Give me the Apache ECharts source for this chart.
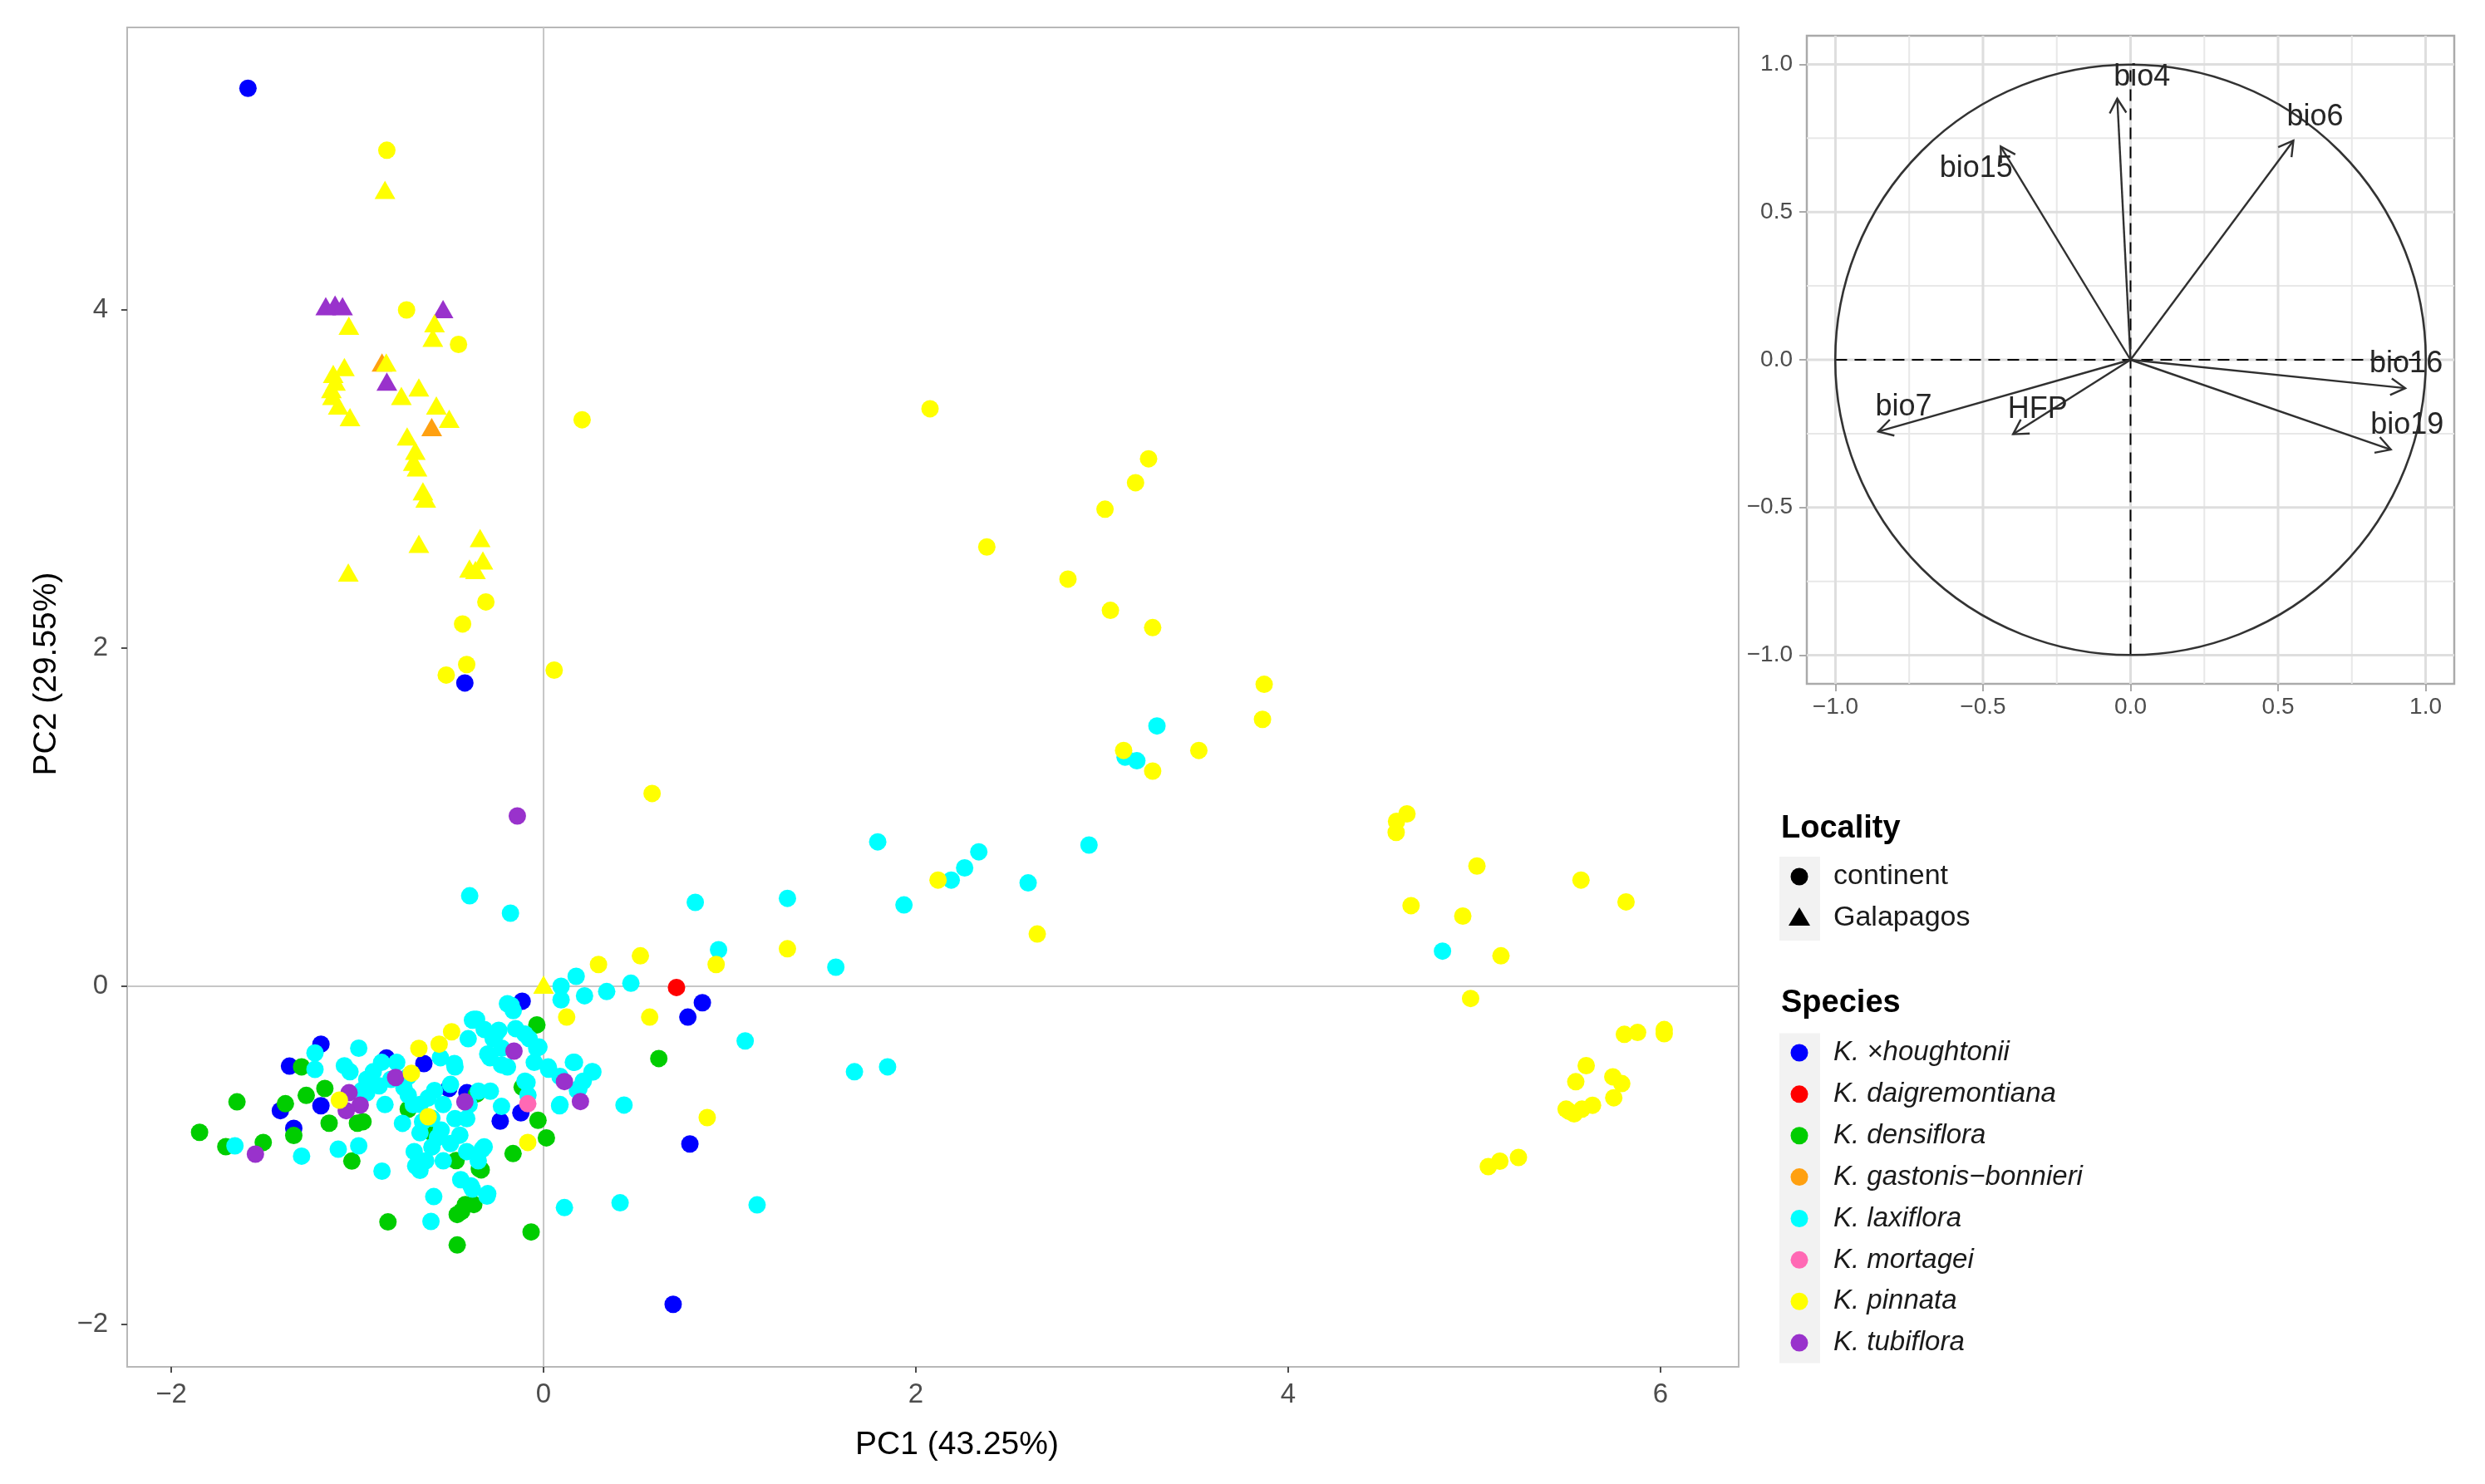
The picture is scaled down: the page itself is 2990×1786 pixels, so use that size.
<!DOCTYPE html>
<html><head><meta charset="utf-8">
<script src="https://cdn.jsdelivr.net/npm/echarts@6/dist/echarts.min.js"></script>
<style>html,body{margin:0;padding:0;background:#fff}#c{width:2990px;height:1786px}</style>
</head><body><div id="c"></div>
<script>
// ---------- DATA ----------
const speciesNames = ['K. ×houghtonii','K. daigremontiana','K. densiflora','K. gastonis−bonnieri','K. laxiflora','K. mortagei','K. pinnata','K. tubiflora'];
const speciesColors = ['#0000FF','#FF0000','#00CD00','#FFA010','#00FFFF','#FF69B4','#FFFF00','#9932CC'];
const localityNames = ['continent','Galapagos'];

const houghtoniiCont = [
[-1.588,5.308],[-0.423,1.793],[0.696,-1.88],[0.786,-0.932],[0.775,-0.182],[0.853,-0.097],
[-1.365,-0.472],[-1.196,-0.342],[-1.414,-0.735],[-1.342,-0.84],[-1.196,-0.706],[-0.844,-0.424],
[-0.643,-0.457],[-0.509,-0.604],[-0.412,-0.629],[-0.122,-0.748],[-0.233,-0.797],[-0.115,-0.088]];

const densifloraCont = [
[-1.848,-0.863],[-1.647,-0.683],[-1.707,-0.948],[-1.506,-0.923],[-1.30,-0.476],[-1.387,-0.694],
[-1.342,-0.882],[-1.275,-0.645],[-1.175,-0.604],[-1.152,-0.809],[-1.0,-0.809],[-0.97,-0.80],
[-1.03,-1.033],[-0.836,-1.393],[-0.464,-1.529],[-0.464,-1.349],[-0.42,-1.29],[-0.345,-1.079],
[-0.375,-1.29],[-0.36,-0.637],[-0.03,-0.792],[0.015,-0.896],[-0.164,-0.989],[-0.115,-0.596],
[-0.036,-0.228],[-0.067,-1.452],[0.619,-0.427],[-0.727,-0.727],[-0.47,-1.03],[-0.335,-1.085],
[-0.6,-0.865],[-0.44,-1.33]];

const laxifloraCont = [
[-1.228,-0.394],[-1.228,-0.491],[-0.993,-0.366],[-1.040,-0.505],[-0.915,-0.505],[-0.789,-0.450],
[-0.727,-0.533],[-0.883,-0.588],[-0.977,-0.616],[-0.852,-0.699],[-0.727,-0.644],[-0.664,-0.699],
[-0.758,-0.810],[-0.554,-0.422],[-0.476,-0.477],[-0.382,-0.200],[-0.319,-0.255],[-0.257,-0.283],
[-0.225,-0.366],[-0.288,-0.422],[-0.194,-0.477],[-0.163,-0.144],[-0.194,-0.103],[-0.100,-0.283],
[-0.037,-0.366],[0.025,-0.477],[0.088,-0.533],[0.166,-0.450],[0.213,-0.561],[0.260,-0.505],
[0.182,-0.616],[0.088,-0.699],[-0.100,-0.561],[-0.084,-0.644],[-0.586,-0.616],[-0.539,-0.699],
[-0.476,-0.782],[-0.413,-0.782],[-0.664,-0.866],[-0.570,-0.894],[-0.695,-0.977],[-0.633,-1.032],
[-0.664,-1.088],[-0.539,-1.032],[-0.413,-0.977],[-0.351,-1.032],[-0.319,-0.949],[-0.445,-1.143],
[-0.382,-1.199],[-0.304,-1.240],[-1.103,-0.963],[-0.993,-0.943],[-0.868,-1.093],[-1.30,-1.004],
[-1.658,-0.943],[-1.07,-0.47],[-0.95,-0.55],[-0.82,-0.55],[-0.75,-0.60],[-0.70,-0.70],
[-0.60,-0.78],[-0.65,-0.80],[-0.55,-0.85],[-0.50,-0.93],[-0.60,-0.95],[-0.45,-0.88],
[-0.40,-0.70],[-0.35,-0.62],[-0.30,-0.40],[-0.15,-0.25],[-0.05,-0.45],[-0.95,-0.63],
[-0.87,-0.45],[-0.62,-0.66],[-0.50,-0.58],[-0.59,-1.243],[-0.605,-1.39],[-0.687,-1.062],
[-0.375,-0.195],[-0.405,-0.31],[-0.479,-0.457],[-0.397,0.535],[-0.178,0.432],[0.094,0.0],
[0.175,0.059],[0.094,-0.08],[0.22,-0.056],[0.339,-0.031],[0.469,0.018],[1.083,-0.323],
[0.432,-0.702],[0.112,-1.308],[0.411,-1.28],[1.147,-1.292],[0.027,-0.49],[0.16,-0.449],
[0.265,-0.506],[0.19,-0.604],[0.086,-0.706],[-0.089,-0.568],[-0.174,-0.113],[-0.025,-0.359],
[-0.077,-0.31],[-0.226,-0.465],[-0.271,-0.31],[-0.36,-0.195],[-0.241,-0.26],[-0.286,-0.62],
[-0.226,-0.71],[-0.33,-0.964],[-0.3,-1.226],[-0.39,-1.18],[0.815,0.496],[1.31,0.52],
[1.795,0.854],[1.936,0.481],[0.94,0.216],[1.57,0.113],[1.67,-0.505],[1.848,-0.476],
[2.338,0.795],[2.262,0.70],[2.19,0.628],[2.603,0.611],[2.93,0.835],[3.295,1.539],
[3.124,1.355],[3.187,1.333],[4.829,0.208]];

const gastonisGal = [[-0.868,3.687],[-0.601,3.306]];

const tubifloraCont = [
[-1.548,-0.992],[-1.045,-0.629],[-0.985,-0.702],[-1.06,-0.735],[-0.795,-0.539],[-0.423,-0.683],
[-0.159,-0.383],[0.112,-0.563],[0.198,-0.681],[-0.141,1.007]];
const tubifloraGal = [[-1.17,4.02],[-1.12,4.03],[-1.08,4.02],[-0.54,4.003],[-0.842,3.575]];

const pinnataGal = [
[-0.852,4.708],[-1.046,3.905],[-0.586,3.92],[-0.595,3.834],[-0.845,3.687],[-1.07,3.66],
[-1.118,3.575],[-1.134,3.49],[-1.103,3.433],[-1.04,3.364],[-1.13,3.62],[-1.14,3.53],
[-0.67,3.54],[-0.764,3.49],[-0.576,3.433],[-0.507,3.355],[-0.733,3.25],[-0.689,3.166],
[-0.68,3.067],[-0.70,3.10],[-0.648,2.926],[-0.633,2.883],[-0.67,2.616],[-0.341,2.65],
[-0.326,2.517],[-0.398,2.469],[-0.366,2.461],[-1.049,2.446],[0.0,0.01]];
const pinnataCont = [
[-0.842,4.942],[-0.736,3.998],[-0.457,3.794],[-0.31,2.272],[-0.435,2.142],[-0.413,1.902],
[-0.523,1.84],[0.057,1.869],[0.207,3.349],[0.583,1.14],[-0.67,-0.367],[-0.561,-0.342],
[-0.494,-0.269],[-0.71,-0.514],[-0.62,-0.771],[-1.097,-0.673],[-0.085,-0.923],[0.124,-0.182],
[0.57,-0.182],[0.295,0.129],[0.52,0.18],[0.927,0.129],[0.879,-0.776],[1.31,0.222],
[2.076,3.414],[3.25,3.118],[3.18,2.977],[3.016,2.82],[2.381,2.597],[2.817,2.407],
[3.045,2.222],[3.272,2.12],[3.871,1.785],[3.862,1.578],[3.116,1.394],[3.272,1.272],
[3.52,1.394],[2.119,0.628],[2.652,0.309],[4.582,0.975],[4.638,1.019],[4.58,0.91],
[5.014,0.711],[4.66,0.477],[4.938,0.415],[5.143,0.18],[5.573,0.628],[5.815,0.499],
[4.98,-0.072],[5.806,-0.284],[5.877,-0.273],[6.02,-0.256],[6.02,-0.28],[5.601,-0.469],
[5.545,-0.564],[5.744,-0.535],[5.792,-0.575],[5.749,-0.659],[5.493,-0.726],[5.536,-0.754],
[5.578,-0.726],[5.635,-0.703],[5.51,-0.74],[5.075,-1.066],[5.137,-1.034],[5.237,-1.012]];

const mortageiCont = [[-0.085,-0.694]];
const daigremontianaCont = [[0.714,-0.007]];

// main panel tick values
const mainXTicks = [-2, 0, 2, 4, 6];
const mainYTicks = [-2, 0, 2, 4];
const mainRefLines = [[0, 0], [0, 1]]; // [value, direction 0=vertical 1=horizontal]

// correlation circle
const arrowVars = ['bio4','bio6','bio15','bio16','bio19','bio7','HFP'];
const arrowX = [-0.045, 0.552, -0.440, 0.931, 0.882, -0.855, -0.398];
const arrowY = [0.884, 0.742, 0.722, -0.096, -0.304, -0.243, -0.252];
const labelX = [0.039, 0.625, -0.523, 0.934, 0.937, -0.769, -0.315];
const labelY = [0.956, 0.822, 0.648, -0.014, -0.223, -0.161, -0.169];
const circleTicks = [-1, -0.5, 0, 0.5, 1];
const circleMinorTicks = [-0.75, -0.25, 0.25, 0.75];
const circleRadius = [[0, 0, 1]];
const circleRefH = [[-1, 0], [1, 0]];
const circleRefV = [[0, -1], [0, 1]];

// ---------- CHART ----------
const FF = '"Liberation Sans", Arial, Helvetica, sans-serif';
const chart = echarts.init(document.getElementById('c'), null, {width: 2990, height: 1786});
const minus = v => (v < 0 ? '\u2212' : '') + Math.abs(v);
const minus1 = v => (v < 0 ? '\u2212' : '') + Math.abs(v).toFixed(1);

function lineRender(style) {
  return function (params, api) {
    const cs = params.coordSys;
    const v = api.value(0), dir = api.value(1);
    if (dir === 0) {
      const px = api.coord([v, 0])[0];
      return {type: 'line', shape: {x1: px, y1: cs.y, x2: px, y2: cs.y + cs.height}, style: Object.assign({}, style)};
    }
    const py = api.coord([0, v])[1];
    return {type: 'line', shape: {x1: cs.x, y1: py, x2: cs.x + cs.width, y2: py}, style: Object.assign({}, style)};
  };
}
function gridData(ticks) {
  const out = [];
  ticks.forEach(t => { out.push([t, 0]); out.push([t, 1]); });
  return out;
}

function scatter(name, color, data, symbol) {
  return {
    type: 'scatter', name: name, xAxisIndex: 0, yAxisIndex: 0, data: data,
    symbol: symbol, symbolSize: symbol === 'triangle' ? [25, 22] : 21,
    itemStyle: {color: color, opacity: 1}, z: 3, silent: true
  };
}

const series = [
  {type: 'custom', xAxisIndex: 0, yAxisIndex: 0, data: mainRefLines, z: 1, silent: true,
   renderItem: lineRender({stroke: '#c6c6c6', lineWidth: 2})},
  scatter(speciesNames[0], speciesColors[0], houghtoniiCont, 'circle'),
  scatter(speciesNames[2], speciesColors[2], densifloraCont, 'circle'),
  scatter(speciesNames[4], speciesColors[4], laxifloraCont, 'circle'),
  scatter(speciesNames[3], speciesColors[3], gastonisGal, 'triangle'),
  scatter(speciesNames[7], speciesColors[7], tubifloraCont, 'circle'),
  scatter(speciesNames[7], speciesColors[7], tubifloraGal, 'triangle'),
  scatter(speciesNames[6], speciesColors[6], pinnataCont, 'circle'),
  scatter(speciesNames[6], speciesColors[6], pinnataGal, 'triangle'),
  scatter(speciesNames[5], speciesColors[5], mortageiCont, 'circle'),
  scatter(speciesNames[1], speciesColors[1], daigremontianaCont, 'circle'),
  // circle panel
  {type: 'custom', xAxisIndex: 1, yAxisIndex: 1, data: gridData(circleMinorTicks), z: 1, silent: true,
   renderItem: lineRender({stroke: '#e8e8e8', lineWidth: 2})},
  {type: 'custom', xAxisIndex: 1, yAxisIndex: 1, data: gridData(circleTicks), z: 1, silent: true,
   renderItem: lineRender({stroke: '#dedede', lineWidth: 3})},
  {type: 'line', xAxisIndex: 1, yAxisIndex: 1, data: circleRefH, symbol: 'none', z: 2, silent: true,
   lineStyle: {color: '#000', width: 2, type: [14, 9]}},
  {type: 'line', xAxisIndex: 1, yAxisIndex: 1, data: circleRefV, symbol: 'none', z: 2, silent: true,
   lineStyle: {color: '#000', width: 2, type: [14, 9]}},
  {type: 'custom', xAxisIndex: 1, yAxisIndex: 1, data: circleRadius, z: 3, silent: true,
   renderItem: function (params, api) {
     const c = api.coord([api.value(0), api.value(1)]);
     const s = api.size([api.value(2), api.value(2)]);
     return {type: 'circle', shape: {cx: c[0], cy: c[1], r: (s[0] + s[1]) / 2},
             style: {fill: 'none', stroke: '#333333', lineWidth: 2.6}};
   }},
  {type: 'custom', xAxisIndex: 1, yAxisIndex: 1, z: 4, silent: true,
   data: arrowVars.map((n, i) => [arrowX[i], arrowY[i]]),
   renderItem: function (params, api) {
     const o = api.coord([0, 0]);
     const p = api.coord([api.value(0), api.value(1)]);
     const ang = Math.atan2(p[1] - o[1], p[0] - o[0]);
     const L = 20, a = Math.PI / 6;
     const h1 = [p[0] - L * Math.cos(ang - a), p[1] - L * Math.sin(ang - a)];
     const h2 = [p[0] - L * Math.cos(ang + a), p[1] - L * Math.sin(ang + a)];
     const st = {stroke: '#303030', lineWidth: 2.4, fill: null};
     return {type: 'group', children: [
       {type: 'line', shape: {x1: o[0], y1: o[1], x2: p[0], y2: p[1]}, style: Object.assign({}, st)},
       {type: 'polyline', shape: {points: [h1, p, h2]}, style: Object.assign({}, st)}
     ]};
   }},
  {type: 'custom', xAxisIndex: 1, yAxisIndex: 1, z: 5, silent: true,
   data: arrowVars.map((n, i) => [labelX[i], labelY[i]]),
   renderItem: function (params, api) {
     const c = api.coord([api.value(0), api.value(1)]);
     return {type: 'text', x: c[0], y: c[1],
             style: {text: arrowVars[params.dataIndex], fontSize: 36, fontFamily: FF, fill: '#262626',
                     align: 'center', verticalAlign: 'middle'}};
   }}
];

// legend drawn as graphic
const legendEls = [];
legendEls.push({type: 'text', x: 2143, y: 998, style: {text: 'Locality', fontSize: 38, fontWeight: 'bold', fontFamily: FF, fill: '#000', verticalAlign: 'middle'}});
legendEls.push({type: 'rect', shape: {x: 2141, y: 1031, width: 49, height: 101}, style: {fill: '#f2f2f2'}});
legendEls.push({type: 'circle', shape: {cx: 2165, cy: 1055, r: 10.5}, style: {fill: '#000'}});
legendEls.push({type: 'polygon', shape: {points: [[2165, 1092], [2152, 1114], [2178, 1114]]}, style: {fill: '#000'}});
localityNames.forEach((n, i) => {
  legendEls.push({type: 'text', x: 2206, y: 1055 + i * 49.5, style: {text: n, fontSize: 34, fontFamily: FF, fill: '#1a1a1a', verticalAlign: 'middle'}});
});
legendEls.push({type: 'text', x: 2143, y: 1208, style: {text: 'Species', fontSize: 38, fontWeight: 'bold', fontFamily: FF, fill: '#000', verticalAlign: 'middle'}});
legendEls.push({type: 'rect', shape: {x: 2141, y: 1243.5, width: 49, height: 397}, style: {fill: '#f2f2f2'}});
speciesNames.forEach((n, i) => {
  const y = 1267 + i * 49.87;
  legendEls.push({type: 'circle', shape: {cx: 2165, cy: y, r: 10.5}, style: {fill: speciesColors[i]}});
  legendEls.push({type: 'text', x: 2206, y: y, style: {text: n, fontSize: 33, fontStyle: 'italic', fontFamily: FF, fill: '#1a1a1a', verticalAlign: 'middle'}});
});

const option = {
  backgroundColor: '#fff',
  animation: false,
  grid: [
    {left: 153, top: 33, width: 1939, height: 1612, show: true, borderColor: '#b8b8b8', borderWidth: 2, backgroundColor: '#fff'},
    {left: 2174, top: 43, width: 779, height: 780, show: true, borderColor: '#aaaaaa', borderWidth: 2.5, backgroundColor: '#fff'}
  ],
  xAxis: [
    {gridIndex: 0, type: 'value', min: -2.237, max: 6.42, position: 'bottom',
     axisLine: {show: false, onZero: false}, splitLine: {show: false},
     axisTick: {show: true, customValues: mainXTicks, length: 7, lineStyle: {color: '#4d4d4d', width: 2}},
     axisLabel: {customValues: mainXTicks, formatter: minus, fontSize: 33, color: '#4d4d4d', margin: 17, fontFamily: FF},
     name: 'PC1 (43.25%)', nameLocation: 'middle', nameGap: 75,
     nameTextStyle: {fontSize: 39, color: '#000', fontFamily: FF, padding: [0, 0, 0, 58]}},
    {gridIndex: 1, type: 'value', min: -1.097, max: 1.097, position: 'bottom',
     axisLine: {show: false, onZero: false}, splitLine: {show: false},
     axisTick: {show: true, customValues: circleTicks, length: 9, lineStyle: {color: '#aaaaaa', width: 2}},
     axisLabel: {customValues: circleTicks, formatter: minus1, fontSize: 28, color: '#4d4d4d', margin: 14, fontFamily: FF}}
  ],
  yAxis: [
    {gridIndex: 0, type: 'value', min: -2.2495, max: 5.668, position: 'left',
     axisLine: {show: false, onZero: false}, splitLine: {show: false},
     axisTick: {show: true, customValues: mainYTicks, length: 7, lineStyle: {color: '#4d4d4d', width: 2}},
     axisLabel: {customValues: mainYTicks, formatter: minus, fontSize: 33, color: '#4d4d4d', margin: 23, fontFamily: FF},
     name: 'PC2 (29.55%)', nameLocation: 'middle', nameGap: 77,
     nameTextStyle: {fontSize: 39, color: '#000', fontFamily: FF, padding: [0, 0, 0, 56]}},
    {gridIndex: 1, type: 'value', min: -1.097, max: 1.097, position: 'left',
     axisLine: {show: false, onZero: false}, splitLine: {show: false},
     axisTick: {show: true, customValues: circleTicks, length: 9, lineStyle: {color: '#aaaaaa', width: 2}},
     axisLabel: {customValues: circleTicks, formatter: minus1, fontSize: 28, color: '#4d4d4d', margin: 17, fontFamily: FF}}
  ],
  graphic: {elements: legendEls},
  series: series
};
chart.setOption(option);
</script></body></html>
